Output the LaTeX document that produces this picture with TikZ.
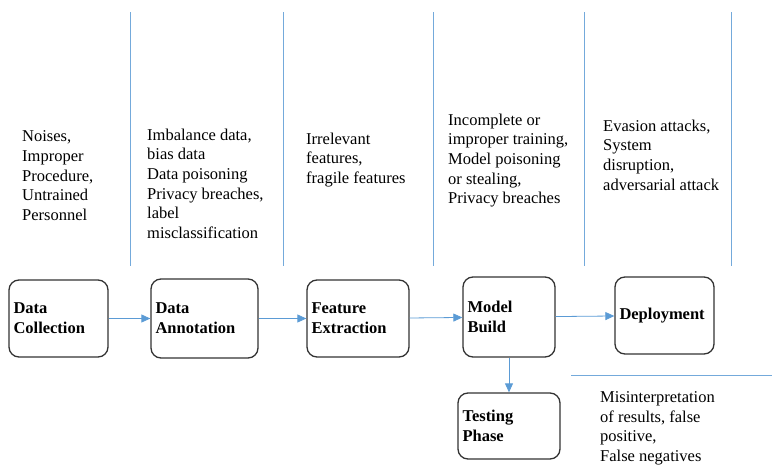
\documentclass[tikz,border=0pt]{standalone}
\usepackage{fontspec}
\setmainfont{Liberation Serif}
\usepackage{tikz}
\usetikzlibrary{arrows.meta}
\definecolor{wordblue}{RGB}{91,155,213}
\newcommand\bodysize{\fontsize{16.5}{19.7}\selectfont}
\tikzset{flow/.style={-{Triangle[length=9pt,width=8pt]}, draw=wordblue, line width=0.8pt}}
\tikzset{stage/.style={shape=rectangle, draw=black!80, line width=1.3pt,
    rounded corners=10pt, align=left, font=\bodysize\bfseries,
    inner xsep=4.5pt, inner ysep=0pt}}
% base of a multi-line node is its last line
\tikzset{risk/.style={align=left, anchor=base west, inner sep=0pt}}
\tikzset{divider/.style={draw=wordblue!85, line width=0.7pt}}

\begin{document}
\begin{tikzpicture}[x=1pt, y=-1pt, font=\bodysize]
  \useasboundingbox (0,0) rectangle (772,466);
  %%%%% column separators
  \foreach \sx in {130,283,433,584,731}
    \draw[divider] (\sx,12) -- (\sx,266);
  \draw[divider] (571,375) -- (772,375);
  %%%%% stages
  \node[stage, text width=90pt, minimum height=77pt] (collect) at (58.5,318.5) {Data\\Collection};
  \node[stage, text width=98pt, minimum height=79pt] (annot) at (204.5,318.5) {Data\\Annotation};
  \node[stage, text width=93pt, minimum height=77pt] (extract) at (358,318.5) {Feature\\Extraction};
  \node[stage, text width=83pt, minimum height=80pt] (build) at (509,317) {Model\\Build};
  \node[stage, text width=90pt, minimum height=77pt] (deploy) at (664.5,315.5) {Deployment};
  \node[stage, text width=93pt, minimum height=66pt] (test) at (509,426) {Testing\\Phase};
  %%%%% risks of each stage
  \node[risk] (noise) at (22,220.5) {Noises,\\Improper\\Procedure,\\Untrained\\Personnel};
  \node[risk] (bias) at (147,238.5) {Imbalance data,\\bias data\\Data poisoning\\Privacy breaches,\\label\\misclassification};
  \node[risk] (fragile) at (306,183.4) {Irrelevant\\features,\\fragile features};
  \node[risk] (steal) at (448,203.8) {Incomplete or\\improper training,\\Model poisoning\\or stealing,\\Privacy breaches};
  \node[risk] (evasion) at (603,190.1) {Evasion attacks,\\System\\disruption,\\adversarial attack};
  \node[risk] (misread) at (600,461.5) {Misinterpretation\\of results, false\\positive,\\False negatives};
  %%%%% flow
  \draw[flow] (collect) -- (annot);
  \draw[flow] (annot) -- (extract);
  \draw[flow] (extract) -- (build);
  \draw[flow] (build) -- (deploy);
  \draw[flow] (build) -- (test);
\end{tikzpicture}
\end{document}
